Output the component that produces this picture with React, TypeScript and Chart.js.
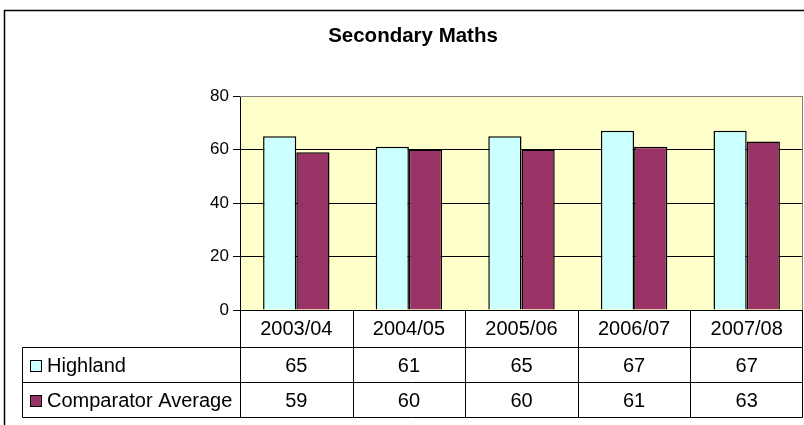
import React, { useEffect, useRef } from "react";
import { Chart, registerables } from "chart.js";

Chart.register(...registerables);

const title = "Secondary Maths";
const categories = ["2003/04", "2004/05", "2005/06", "2006/07", "2007/08"];
const seriesNames = ["Highland", "Comparator Average"];
const highland = [65, 61, 65, 67, 67];
const comparator = [59, 60, 60, 61, 63];
const yTicks = [0, 20, 40, 60, 80];

const HIGHLAND_COLOR = "#CCFFFF";
const COMP_COLOR = "#993366";
const PLOT_BG = "#FFFFCC";
const FONT = "'Liberation Sans', Arial, sans-serif";

const W = 804;
const H = 425;

export default function App() {
  const ref = useRef<HTMLCanvasElement | null>(null);

  useEffect(() => {
    document.body.style.margin = "0";
    const canvas = ref.current;
    if (!canvas) return;

    const framePlugin = {
      id: "excelFrame",
      beforeDraw(chart: any) {
        const { ctx, chartArea } = chart;
        ctx.save();
        ctx.fillStyle = "#ffffff";
        ctx.fillRect(0, 0, W, H);
        ctx.fillStyle = PLOT_BG;
        ctx.fillRect(chartArea.left, chartArea.top, chartArea.right - chartArea.left, chartArea.bottom - chartArea.top);
        ctx.restore();
      },
      afterDraw(chart: any) {
        const { ctx, chartArea } = chart;
        const xScale = chart.scales.x;
        const n = categories.length;
        const colW = (chartArea.right - chartArea.left) / n;
        ctx.save();
        // outer frame
        ctx.strokeStyle = "#000";
        ctx.lineWidth = 1.5;
        ctx.beginPath();
        ctx.moveTo(4.5, H + 5);
        ctx.lineTo(4.5, 10.5);
        ctx.lineTo(W + 5, 10.5);
        ctx.stroke();

        // plot border top/right gray
        ctx.strokeStyle = "#808080";
        ctx.lineWidth = 1;
        ctx.beginPath();
        ctx.moveTo(chartArea.left, chartArea.top + 0.5);
        ctx.lineTo(chartArea.right - 0.5, chartArea.top + 0.5);
        ctx.lineTo(chartArea.right - 0.5, chartArea.bottom);
        ctx.stroke();

        // title
        ctx.fillStyle = "#000";
        ctx.font = `bold 20.5px ${FONT}`;
        ctx.textAlign = "center";
        ctx.textBaseline = "middle";
        ctx.fillText(title, 413, 36);

        // data table
        const tableLeft = 22.5;
        const r0 = chartArea.bottom;
        const r1 = 347.5;
        const r2 = 382.5;
        const r3 = 417.5;
        const right = chartArea.right - 0.5;
        ctx.strokeStyle = "#000";
        ctx.lineWidth = 1;
        ctx.beginPath();
        ctx.moveTo(chartArea.left, r0 + 0.5);
        ctx.lineTo(right, r0 + 0.5);
        [r1, r2, r3].forEach((y) => {
          ctx.moveTo(tableLeft, y);
          ctx.lineTo(right, y);
        });
        ctx.moveTo(tableLeft, r1);
        ctx.lineTo(tableLeft, r3);
        for (let i = 0; i <= n; i++) {
          const x = Math.round(chartArea.left + i * colW) + (i === n ? -0.5 : 0.5);
          ctx.moveTo(x, r0);
          ctx.lineTo(x, r3);
        }
        ctx.stroke();

        ctx.font = `20px ${FONT}`;
        ctx.textAlign = "center";
        ctx.textBaseline = "middle";
        const rows = [highland, comparator];
        categories.forEach((c, i) => {
          const cx = xScale.getPixelForValue(i);
          ctx.fillText(c, cx, (r0 + r1) / 2 + 1);
          ctx.fillText(String(rows[0][i]), cx, (r1 + r2) / 2 + 1);
          ctx.fillText(String(rows[1][i]), cx, (r2 + r3) / 2 + 1);
        });

        // legend keys
        const colors = [HIGHLAND_COLOR, COMP_COLOR];
        const rowMid = [(r1 + r2) / 2, (r2 + r3) / 2];
        ctx.textAlign = "left";
        seriesNames.forEach((name, k) => {
          const y = rowMid[k];
          ctx.fillStyle = colors[k];
          ctx.fillRect(30, y - 5, 11, 11);
          ctx.strokeStyle = "#000";
          ctx.strokeRect(30.5, y - 4.5, 11, 11);
          ctx.fillStyle = "#000";
          ctx.fillText(name, 47, y + 1);
        });
        ctx.restore();
      },
    };

    const chart = new Chart(canvas, {
      type: "bar",
      data: {
        labels: categories,
        datasets: [
          {
            label: seriesNames[0],
            data: highland,
            backgroundColor: HIGHLAND_COLOR,
            borderColor: "#000",
            borderWidth: 1.5,
            categoryPercentage: 0.59,
            barPercentage: 1,
          },
          {
            label: seriesNames[1],
            data: comparator,
            backgroundColor: COMP_COLOR,
            borderColor: "#000",
            borderWidth: 1.5,
            categoryPercentage: 0.59,
            barPercentage: 1,
          },
        ],
      },
      options: {
        responsive: false,
        animation: false,
        devicePixelRatio: 1,
        layout: { padding: { left: 0, top: 96, right: 1, bottom: H - 310 } },
        plugins: {
          legend: { display: false },
          title: { display: false },
          tooltip: { enabled: false },
        },
        scales: {
          x: { display: false },
          y: {
            min: 0,
            max: 80,
            afterFit(scale: any) {
              scale.width = 240;
            },
            afterBuildTicks(scale: any) {
              scale.ticks = yTicks.map((v) => ({ value: v }));
            },
            ticks: {
              color: "#000",
              font: { family: FONT, size: 17 },
              padding: 4,
            },
            grid: {
              color: (ctx: any) => (ctx.tick && ctx.tick.value === 80 ? "#808080" : "#000"),
              tickColor: "#000",
              tickLength: 7,
              lineWidth: 1,
            },
            border: { color: "#000", width: 1 },
          },
        },
      },
      plugins: [framePlugin],
    });
    return () => chart.destroy();
  }, []);

  return <canvas ref={ref} width={W} height={H} style={{ display: "block", width: W, height: H }} />;
}
